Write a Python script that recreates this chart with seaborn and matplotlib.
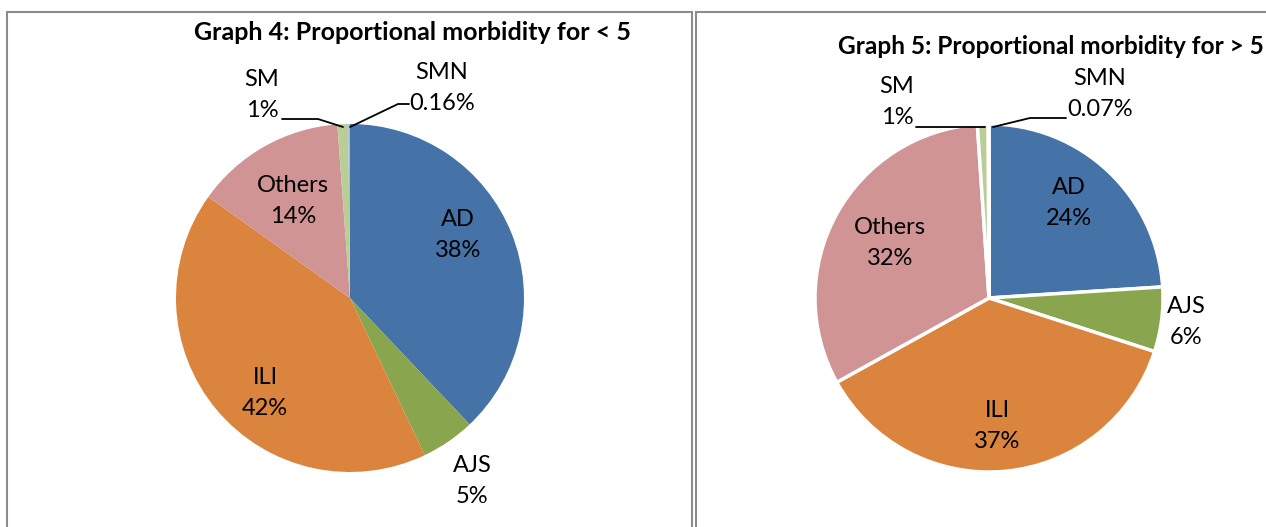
import matplotlib
matplotlib.use("Agg")
import matplotlib.pyplot as plt
import seaborn as sns
from matplotlib.patches import Rectangle

sns.set_theme(style="white")
plt.rcParams['font.family'] = ['Lato', 'DejaVu Sans']

# data
categories = ['AD', 'AJS', 'ILI', 'Others', 'SM', 'SMN']
under5 = [38, 5, 42, 14, 1, 0.16]
over5 = [24, 6, 37, 32, 1, 0.07]
labels_under5 = ['38%', '5%', '42%', '14%', '1%', '0.16%']
labels_over5 = ['24%', '6%', '37%', '32%', '1%', '0.07%']
colors = ['#4572A7', '#89A54E', '#DB843D', '#D09494', '#B9CD96', '#A5B9D9']

W, H = 1266, 527
fig = plt.figure(figsize=(W / 100, H / 100), dpi=100)
ax = fig.add_axes([0, 0, 1, 1])

def py(y):
    return H - y

# left pie
ax.pie(under5, colors=colors, startangle=90, counterclock=False,
       center=(350, py(298)), radius=174,
       wedgeprops=dict(linewidth=0))

# right pie, ILI pulled out a bit
ax.pie(over5, colors=colors, startangle=90, counterclock=False,
       center=(989, py(298)), radius=174, explode=[0, 0, 0.025, 0, 0, 0],
       wedgeprops=dict(linewidth=2.5, edgecolor='white'))

ax.set_xlim(0, W)
ax.set_ylim(0, H)
ax.set_aspect('equal')
ax.axis('off')

# chart boxes
ax.add_patch(Rectangle((7, -5), 685, py(12) + 5, fill=False, ec='#8c8c8c', lw=1.5))
ax.add_patch(Rectangle((696, -5), 600, py(12) + 5, fill=False, ec='#8c8c8c', lw=1.5))

fs = 17
lab_pos_left = [(458, 235), (472, 481), (265, 393), (293, 201), (262, 95), (442, 88)]
lab_pos_right = [(1069, 203), (1186, 322), (997, 426), (890, 243), (897, 102), (1100, 94)]

for cat, pct, (x, y) in zip(categories, labels_under5, lab_pos_left):
    ax.text(x, py(y), f"{cat}\n{pct}", ha='center', va='center', fontsize=fs,
            linespacing=1.55, color='black')
for cat, pct, (x, y) in zip(categories, labels_over5, lab_pos_right):
    ax.text(x, py(y), f"{cat}\n{pct}", ha='center', va='center', fontsize=fs,
            linespacing=1.55, color='black')

# leader lines
ax.plot([282, 318, 343], [py(119), py(119), py(127)], color='black', lw=1.3)
ax.plot([409, 398, 350], [py(104), py(104), py(127)], color='black', lw=1.3)
ax.plot([916, 985], [py(127), py(127)], color='black', lw=1.3)
ax.plot([1066, 1030, 993], [py(118), py(118), py(127)], color='black', lw=1.3)

ax.text(412, py(33), 'Graph 4: Proportional morbidity for < 5', ha='center', va='center',
        fontsize=18, fontweight='bold', color='black')
ax.text(1264, py(46), 'Graph 5: Proportional morbidity for > 5', ha='right', va='center',
        fontsize=17.6, fontweight='bold', color='black')

fig.savefig('out.png', dpi=100)
